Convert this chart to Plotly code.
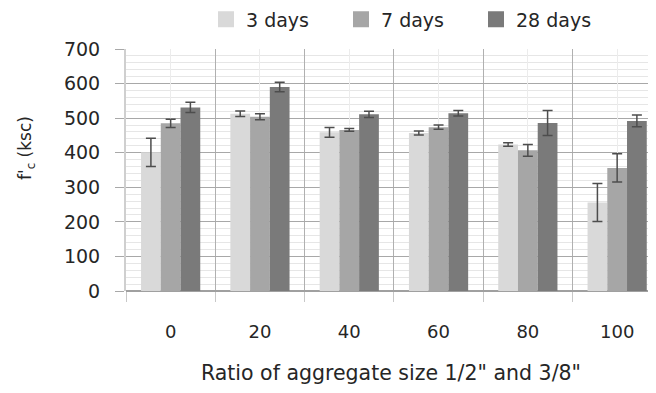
import plotly.graph_objects as go

categories = ["0", "20", "40", "60", "80", "100"]
series_names = ["3 days", "7 days", "28 days"]
days3 = [401, 513, 459, 457, 424, 256]
days3_err = [41, 8, 14, 6, 5, 55]
days7 = [485, 504, 466, 474, 407, 356]
days7_err = [12, 9, 4, 6, 17, 41]
days28 = [531, 590, 511, 514, 486, 492]
days28_err = [15, 14, 9, 8, 36, 17]
colors = ["#d9d9d9", "#a6a6a6", "#7a7a7a"]

FONT = "DejaVu Sans, sans-serif"
TXT = "#262626"

# page body has an 8px default margin: size the figure to fill the rest
W, H = 648, 385
OFF = 8

fig = go.Figure()
for name, vals, errs, col in zip(series_names, [days3, days7, days28],
                                 [days3_err, days7_err, days28_err], colors):
    fig.add_trace(go.Bar(
        x=categories, y=vals, name=name, marker_color=col, marker_line_width=0,
        showlegend=False,
        error_y=dict(type="data", array=errs, visible=True, color="#4d4d4d",
                     thickness=1.5, width=5),
    ))
    # legend proxy
    fig.add_trace(go.Scatter(
        x=[None], y=[None], mode="markers", name=name,
        marker=dict(symbol="square", size=16, color=col),
    ))

# overlay axis for light gridlines at category centers
fig.add_trace(go.Scatter(x=[None], y=[None], xaxis="x2", showlegend=False))

plot_w = W - (126 - OFF)

fig.update_layout(
    width=W, height=H,
    margin=dict(l=126 - OFF, r=0, t=49 - OFF, b=H - (291 - OFF)),
    paper_bgcolor="white", plot_bgcolor="white",
    barmode="group", bargap=0.337, bargroupgap=0,
    font=dict(family=FONT, size=19, color=TXT),
    legend=dict(orientation="h", x=(206 - OFF) / W, xref="container", xanchor="left",
                y=1 - (19.5 - OFF) / H, yref="container", yanchor="middle",
                entrywidth=90, font=dict(size=19, color=TXT, family=FONT),
                bgcolor="rgba(0,0,0,0)", itemclick=False),
    xaxis=dict(
        type="category", range=[-0.5, 5.435], tickson="boundaries",
        showgrid=True, gridcolor="#b0b0b0", gridwidth=1.4,
        ticks="outside", ticklen=10, tickcolor="#c8c8c8", tickwidth=1.3,
        showline=False, zeroline=False,
        tickfont=dict(size=18, color=TXT, family=FONT), ticklabelstandoff=28,
        title=dict(text="Ratio of aggregate size 1/2\" and 3/8\"",
                   font=dict(size=20.5, color=TXT, family=FONT), standoff=24),
    ),
    xaxis2=dict(
        overlaying="x", range=[-0.5, 5.435],
        tickvals=[0, 1, 2, 3, 4, 5], showticklabels=False,
        showgrid=True, gridcolor="#ececec", gridwidth=1, zeroline=False,
        showline=False, ticks="",
    ),
    yaxis=dict(
        range=[0, 700], dtick=100, tick0=0,
        showgrid=True, gridcolor="#a8a8a8", gridwidth=1.4,
        ticks="outside", ticklen=9, tickcolor="#a8a8a8", tickwidth=1.4,
        zeroline=True, zerolinecolor="#a0a0a0", zerolinewidth=1.5,
        showline=True, linecolor="#cfcfcf", linewidth=2,
        minor=dict(dtick=20, showgrid=True, gridcolor="#e6e6e6", gridwidth=1),
        tickfont=dict(size=19, color=TXT, family=FONT), ticklabelstandoff=11,
    ),
    annotations=[dict(
        text="f'<sub>c</sub> (ksc)", textangle=-90,
        xref="paper", x=(26 - 126) / plot_w, xanchor="center",
        yref="paper", y=(291 - 148) / 242, yanchor="middle",
        showarrow=False, font=dict(size=17, color=TXT, family=FONT),
    )],
)

fig.write_html("out.html")
